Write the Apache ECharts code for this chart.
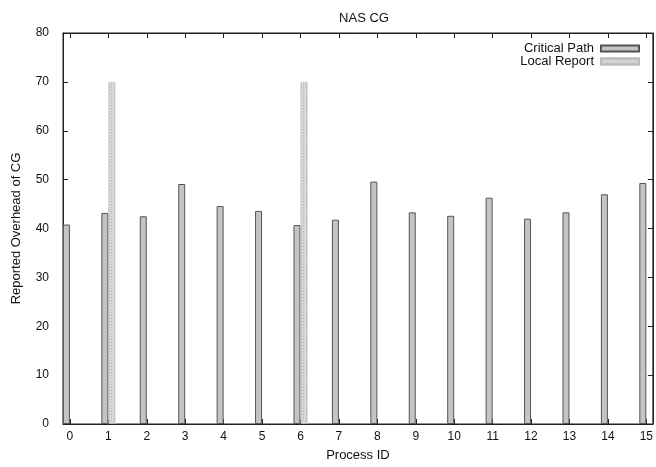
<!DOCTYPE html>
<html>
<head>
<meta charset="utf-8">
<script src="https://cdn.jsdelivr.net/npm/echarts@6/dist/echarts.min.js"></script>
<style>
  html, body { margin: 0; padding: 0; background: #fff; }
  #chart { width: 656px; height: 467px; }
</style>
</head>
<body>
<div id="chart"></div>
<script>
// process ids and reported overhead
var processIds = [0, 1, 2, 3, 4, 5, 6, 7, 8, 9, 10, 11, 12, 13, 14, 15];
var criticalPath = [40.8, 43.2, 42.5, 49.1, 44.6, 43.6, 40.7, 41.8, 49.6, 43.3, 42.6, 46.3, 42.0, 43.3, 47.0, 49.3];
// only processes 1 and 6 report locally
var localReport = [null, 70, null, null, null, null, 70, null, null, null, null, null, null, null, null, null];
var yTicks = [0, 10, 20, 30, 40, 50, 60, 70, 80];

function pairs(vals) {
  return processIds.map(function (id, i) { return [id, vals[i] == null ? "-" : vals[i]]; });
}

var myChart = echarts.init(document.getElementById("chart"));
var txt = { color: "#111", fontFamily: "Liberation Sans, Arial, sans-serif", fontSize: 13 };

var option = {
  animation: false,
  title: {
    text: "NAS CG",
    left: 359,
    textAlign: "center",
    top: 7,
    textStyle: { color: "#111", fontFamily: txt.fontFamily, fontSize: 13, fontWeight: "normal" }
  },
  legend: {
    orient: "vertical",
    right: 11,
    top: 37,
    align: "right",
    itemWidth: 38,
    itemHeight: 6,
    itemGap: 0,
    icon: "rect",
    textStyle: { color: "#111", fontFamily: txt.fontFamily, fontSize: 13, width: 80, align: "right", padding: [0, 2, 0, 0] },
    data: ["Critical Path", "Local Report"]
  },
  grid: { left: 63, right: 1, top: 33, bottom: 40, show: true, borderColor: "#222", borderWidth: 1 },
  xAxis: [
    {
      type: "value",
      min: -0.18,
      max: 15.17,
      name: "Process ID",
      nameLocation: "middle",
      nameGap: 25,
      nameTextStyle: txt,
      splitLine: { show: false },
      axisLine: { show: true, onZero: false, lineStyle: { color: "#222" } },
      axisTick: { inside: true, length: 5, customValues: processIds, lineStyle: { color: "#222" } },
      axisLabel: { margin: 7, customValues: processIds, color: txt.color, fontFamily: txt.fontFamily, fontSize: 12 }
    },
    {
      type: "value",
      position: "top",
      min: -0.18,
      max: 15.17,
      splitLine: { show: false },
      axisLine: { show: true, onZero: false, lineStyle: { color: "#222" } },
      axisTick: { inside: true, length: 5, customValues: processIds, lineStyle: { color: "#222" } },
      axisLabel: { show: false }
    }
  ],
  yAxis: [
    {
      type: "value",
      min: 0,
      max: 80,
      interval: 10,
      name: "Reported Overhead of CG",
      nameLocation: "middle",
      nameGap: 40,
      nameTextStyle: txt,
      splitLine: { show: false },
      axisLine: { show: true, onZero: false, lineStyle: { color: "#222" } },
      axisTick: { inside: true, length: 5, lineStyle: { color: "#222" } },
      axisLabel: { margin: 14, customValues: yTicks, color: txt.color, fontFamily: txt.fontFamily, fontSize: 12 }
    },
    {
      type: "value",
      position: "right",
      min: 0,
      max: 80,
      interval: 10,
      splitLine: { show: false },
      axisLine: { show: true, onZero: false, lineStyle: { color: "#222" } },
      axisTick: { inside: true, length: 5, lineStyle: { color: "#222" } },
      axisLabel: { show: false }
    }
  ],
  series: [
    {
      name: "Critical Path",
      type: "bar",
      barWidth: 7,
      barGap: "0%",
      itemStyle: { color: "#c4c4c4", borderColor: "#555", borderWidth: 1 },
      data: pairs(criticalPath)
    },
    {
      name: "Local Report",
      type: "bar",
      barWidth: 7,
      barGap: "0%",
      itemStyle: {
        color: "#d8d8d8",
        borderColor: "#bcbcbc",
        borderWidth: 1,
        borderType: "dotted",
        decal: { symbol: "rect", symbolSize: 1, color: "rgba(160,160,160,0.7)", dashArrayX: [1, 2], dashArrayY: [1, 2] }
      },
      data: pairs(localReport)
    }
  ]
};

myChart.setOption(option);
</script>
</body>
</html>
